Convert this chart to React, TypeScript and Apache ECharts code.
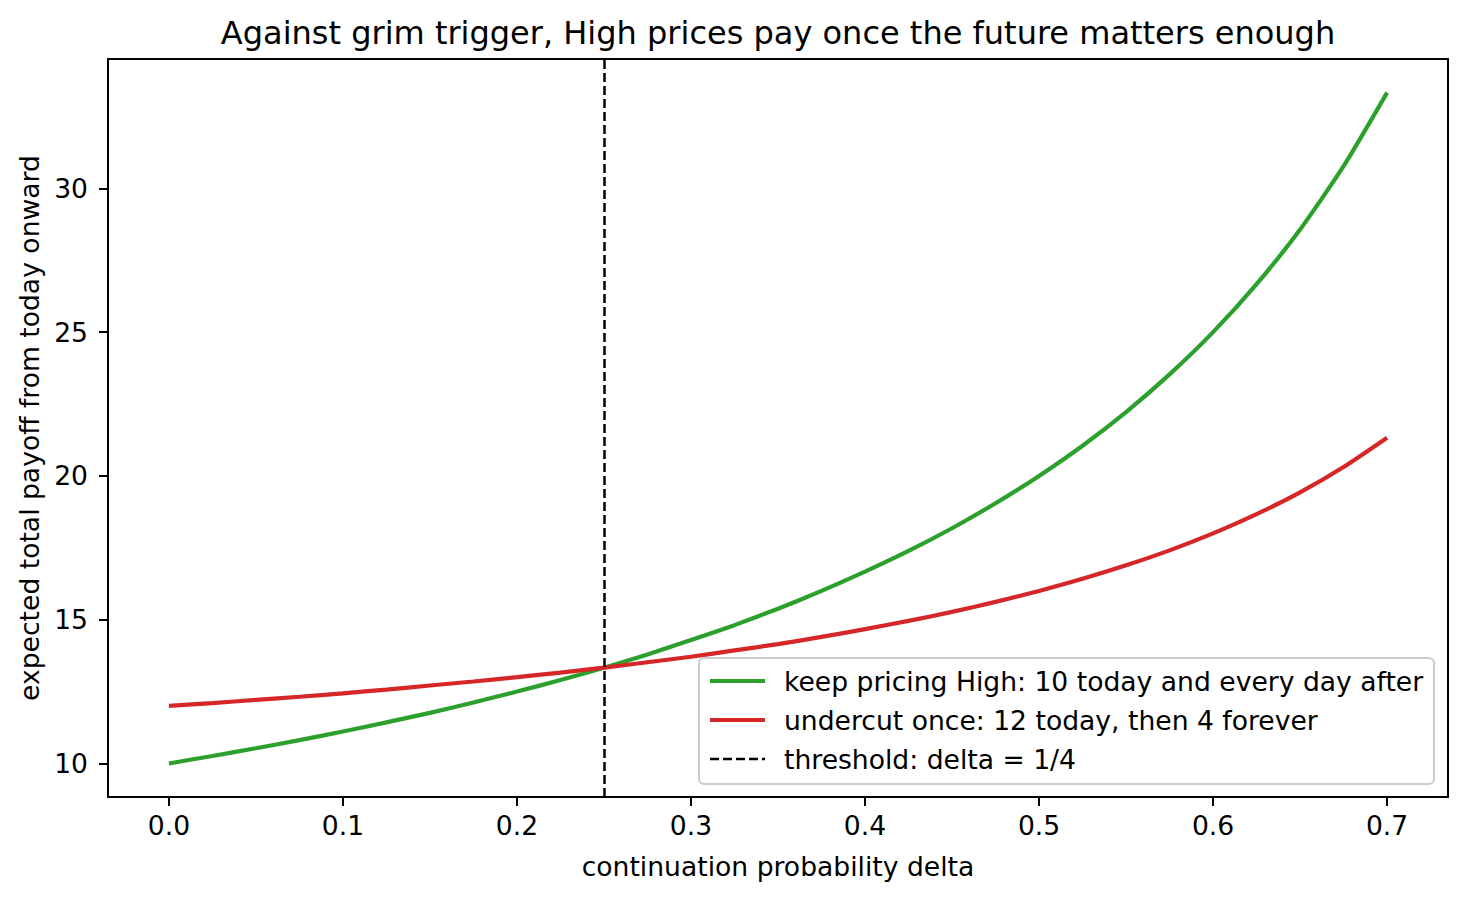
import React, { useEffect, useRef } from "react";
import * as echarts from "echarts";

const deltas = [0, 0.025, 0.05, 0.075, 0.1, 0.125, 0.15, 0.175, 0.2, 0.225, 0.25, 0.275, 0.3, 0.325, 0.35, 0.375, 0.4, 0.425, 0.45, 0.475, 0.5, 0.525, 0.55, 0.575, 0.6, 0.625, 0.65, 0.675, 0.7];
const keepHigh = [10, 10.26, 10.53, 10.81, 11.11, 11.43, 11.76, 12.12, 12.5, 12.9, 13.33, 13.79, 14.29, 14.81, 15.38, 16, 16.67, 17.39, 18.18, 19.05, 20, 21.05, 22.22, 23.53, 25, 26.67, 28.57, 30.77, 33.33];
const undercut = [12, 12.1, 12.21, 12.32, 12.44, 12.57, 12.71, 12.85, 13, 13.16, 13.33, 13.52, 13.71, 13.93, 14.15, 14.4, 14.67, 14.96, 15.27, 15.62, 16, 16.42, 16.89, 17.41, 18, 18.67, 19.43, 20.31, 21.33];
const xTicks = [0, 0.1, 0.2, 0.3, 0.4, 0.5, 0.6, 0.7];
const yTicks = [10, 15, 20, 25, 30];
const threshold = 0.25;
const labels = [
  "keep pricing High: 10 today and every day after",
  "undercut once: 12 today, then 4 forever",
  "threshold: delta = 1/4",
];
const titleText = "Against grim trigger, High prices pay once the future matters enough";

const FONT = "DejaVu Sans";
const GREEN = "#2ca02c";
const RED = "#d62728";
const FS = 26.6;

export default function App() {
  const ref = useRef<HTMLDivElement>(null);
  useEffect(() => {
    if (!ref.current) return;
    const chart = echarts.init(ref.current, undefined, { renderer: "svg" });
    const gl = 108, gr = 1448, gt = 59, gb = 797;
    const lx = 699, ly = 658, lw = 735, lh = 126;
    const rows = [681, 720, 759];
    chart.setOption({
      animation: false,
      backgroundColor: "#ffffff",
      textStyle: { fontFamily: FONT },
      grid: { left: gl, right: 1466 - gr, top: gt, bottom: 898 - gb, containLabel: false },
      xAxis: {
        type: "value",
        min: -0.035,
        max: 0.735,
        name: "continuation probability delta",
        nameLocation: "middle",
        nameGap: 56,
        nameTextStyle: { fontFamily: FONT, fontSize: FS, color: "#000" },
        axisLine: { show: true, onZero: false, lineStyle: { color: "#000", width: 2 } },
        axisTick: { show: true, length: 9, lineStyle: { color: "#000", width: 2 }, customValues: xTicks },
        axisLabel: {
          fontFamily: FONT, fontSize: FS, color: "#000", margin: 15,
          customValues: xTicks,
          formatter: (v: number) => v.toFixed(1),
        },
        splitLine: { show: false },
      },
      yAxis: {
        type: "value",
        min: 8.833,
        max: 34.5,
        name: "expected total payoff from today onward",
        nameLocation: "middle",
        nameGap: 62,
        nameTextStyle: { fontFamily: FONT, fontSize: FS, color: "#000" },
        axisLine: { show: true, onZero: false, lineStyle: { color: "#000", width: 2 } },
        axisTick: { show: true, length: 9, lineStyle: { color: "#000", width: 2 }, customValues: yTicks },
        axisLabel: {
          fontFamily: FONT, fontSize: FS, color: "#000", margin: 20,
          customValues: yTicks,
          formatter: (v: number) => String(v),
        },
        splitLine: { show: false },
      },
      graphic: [
        {
          type: "rect",
          shape: { x: gl, y: gt, width: gr - gl, height: gb - gt },
          style: { fill: "none", stroke: "#000", lineWidth: 2 },
          silent: true,
          z: 10,
        },
        {
          type: "text",
          x: (gl + gr) / 2,
          y: 33,
          style: { text: titleText, fontFamily: FONT, fontSize: 32, fill: "#000", align: "center", verticalAlign: "middle" },
        },
        {
          type: "rect",
          shape: { x: lx, y: ly, width: lw, height: lh, r: 5 },
          style: { fill: "rgba(255,255,255,0.8)", stroke: "#cccccc", lineWidth: 2 },
          z: 20,
        },
        { type: "line", shape: { x1: 710, y1: rows[0], x2: 765, y2: rows[0] }, style: { stroke: GREEN, lineWidth: 4.2 }, z: 21 },
        { type: "line", shape: { x1: 710, y1: rows[1], x2: 765, y2: rows[1] }, style: { stroke: RED, lineWidth: 4.2 }, z: 21 },
        { type: "line", shape: { x1: 710, y1: rows[2], x2: 765, y2: rows[2] }, style: { stroke: "#000", lineWidth: 2.5, lineDash: [9, 4] }, z: 21 },
        ...labels.map((t, i) => ({
          type: "text",
          x: 784,
          y: rows[i],
          z: 21,
          style: { text: t, fontFamily: FONT, fontSize: FS, fill: "#000", align: "left", verticalAlign: "middle" },
        })),
      ],
      series: [
        {
          name: labels[0],
          type: "line",
          data: deltas.map((d, i) => [d, keepHigh[i]]),
          smooth: 0.2,
          showSymbol: false,
          lineStyle: { color: GREEN, width: 4.2 },
          itemStyle: { color: GREEN },
          z: 3,
          markLine: {
            silent: true,
            symbol: "none",
            label: { show: false },
            lineStyle: { color: "#000", width: 2.5, type: [9, 4] },
            data: [{ xAxis: threshold }],
          },
        },
        {
          name: labels[1],
          type: "line",
          data: deltas.map((d, i) => [d, undercut[i]]),
          smooth: 0.2,
          showSymbol: false,
          lineStyle: { color: RED, width: 4.2 },
          itemStyle: { color: RED },
          z: 4,
        },
      ],
    });
    return () => chart.dispose();
  }, []);
  return <div ref={ref} style={{ position: "fixed", left: 0, top: 0, width: 1466, height: 898 }} />;
}
